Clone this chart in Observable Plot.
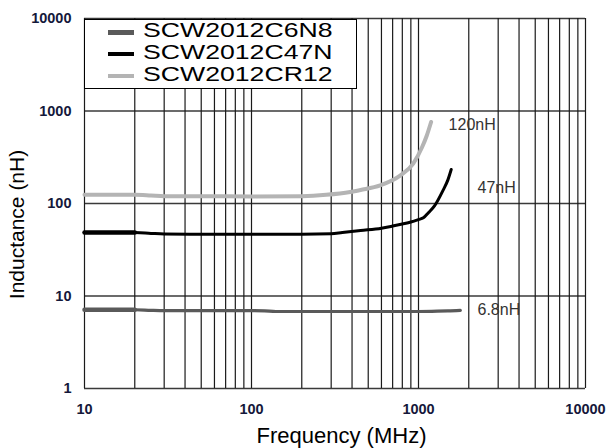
<!DOCTYPE html>
<html>
<head>
<meta charset="utf-8">
<script src="https://cdn.jsdelivr.net/npm/d3@7"></script>
<script src="https://cdn.jsdelivr.net/npm/@observablehq/plot@0.6"></script>
<style>
  html, body { margin: 0; padding: 0; background: #fff; }
  #wrap { position: relative; width: 607px; height: 448px; font-family: "Liberation Sans", Arial, sans-serif; }
  #legend { position: absolute; left: 84px; top: 19px; width: 273px; height: 70px; box-sizing: border-box;
            border: 1px solid #000; background: #fff; }
  .sw { position: absolute; left: 22.5px; width: 26px; height: 4.5px; }
  .lt { position: absolute; left: 58px; font-size: 21px; line-height: 20px; color: #000; white-space: nowrap;
        transform-origin: left center; }
</style>
</head>
<body>
<div id="wrap"></div>
<script>
// ---- data ----
const seriesNames = ["SCW2012C6N8", "SCW2012C47N", "SCW2012CR12"];
const seriesColors = ["#5a5a5a", "#000000", "#b4b4b4"];

const freq68 = [10, 20, 25, 30, 50, 100, 120, 140, 200, 500, 1000, 1300, 1500, 1780];
const ind68  = [7.1, 7.1, 7.0, 6.95, 6.95, 6.95, 6.9, 6.8, 6.8, 6.8, 6.8, 6.85, 6.9, 7.0];

const freq47 = [10, 20, 25, 30, 50, 100, 200, 300, 350, 450, 600, 700, 800, 900, 1000, 1070, 1150, 1250, 1400, 1500, 1570];
const ind47  = [48.5, 48.5, 47.5, 46.8, 46.5, 46.5, 46.5, 47, 48.5, 51, 54, 57, 60, 63, 67, 70, 80, 95, 138, 180, 233];

const freq120 = [10, 20, 25, 30, 50, 100, 200, 280, 390, 450, 590, 780, 930, 1050, 1120, 1190];
const ind120  = [124, 124, 122, 120, 120, 119, 120, 124, 133, 140, 157, 201, 270, 405, 540, 760];

const annoText = ["120nH", "47nH", "6.8nH"];
const annoFreq = [1514, 2256, 2256];
const annoInd  = [714, 149, 7.14];

const xTickValues = [10, 100, 1000, 10000];
const yTickValues = [1, 10, 100, 1000, 10000];

// grid lines at 1..9 x each decade
const xGrid = [];
for (let e = 1; e <= 3; e++) for (let m = 1; m <= 9; m++) xGrid.push(m * Math.pow(10, e));
xGrid.push(10000);

const toPts = (f, v) => f.map((x, i) => ({f: x, v: v[i]}));
const s68 = toPts(freq68, ind68), s47 = toPts(freq47, ind47), s120 = toPts(freq120, ind120);
const anno = annoText.map((t, i) => ({t, f: annoFreq[i], v: annoInd[i]}));

const font = "Liberation Sans, Arial, sans-serif";

const chart = Plot.plot({
  width: 607, height: 448,
  marginLeft: 84, marginRight: 22, marginTop: 18, marginBottom: 60,
  x: {type: "log", domain: [10, 10000]},
  y: {type: "log", domain: [1, 10000]},
  style: {fontFamily: font, background: "#fff", overflow: "visible"},
  marks: [
    Plot.ruleY(yTickValues, {y: d => d, stroke: "#3a3a3a", strokeWidth: 1.3}),
    Plot.ruleX(xGrid, {x: d => d, stroke: "#1a1a1a", strokeWidth: 1.2}),
    Plot.axisX(xTickValues, {tickSize: 0, tickPadding: 15, tickFormat: d => String(d), fontSize: 14.5, fontWeight: "bold", fill: "#14183a", label: null}),
    Plot.axisY(yTickValues, {tickSize: 0, tickPadding: 13, tickFormat: d => String(d), fontSize: 14.5, fontWeight: "bold", fill: "#14183a", label: null}),
    // curves
    Plot.line(s120, {x: "f", y: "v", stroke: seriesColors[2], strokeWidth: 4, curve: "monotone-x"}),
    Plot.line(s47, {x: "f", y: "v", stroke: seriesColors[1], strokeWidth: 3, curve: "monotone-x"}),
    Plot.line(s47.slice(0, 2), {x: "f", y: "v", stroke: seriesColors[1], strokeWidth: 4.5}),
    Plot.line(s68, {x: "f", y: "v", stroke: seriesColors[0], strokeWidth: 3.2, curve: "monotone-x"}),
    Plot.line(s68.slice(0, 2), {x: "f", y: "v", stroke: seriesColors[0], strokeWidth: 4.5}),
    // annotations
    Plot.text(anno, {x: "f", y: "v", text: "t", textAnchor: "start", lineAnchor: "middle", fontSize: 16, fill: "#333"}),
    // axis titles
    Plot.text(["Frequency (MHz)"], {frameAnchor: "bottom", dx: 6.5, dy: 47, fontSize: 22, fill: "#000", textAnchor: "middle", lineAnchor: "middle"}),
    Plot.text(["Inductance (nH)"], {frameAnchor: "left", dx: -67, dy: 21, rotate: -90, fontSize: 21, fill: "#000", textAnchor: "middle", lineAnchor: "middle"})
  ]
});

const wrap = document.getElementById("wrap");
wrap.appendChild(chart);

// legend overlay
const legend = document.createElement("div");
legend.id = "legend";
wrap.appendChild(legend);
const swCenters = [12.7, 34, 56];
const textTops = [-0.3, 21.7, 43.9];
const targetWidth = 189;
seriesNames.forEach((name, i) => {
  const sw = document.createElement("div");
  sw.className = "sw";
  sw.style.top = (swCenters[i] - 2.25) + "px";
  sw.style.background = seriesColors[i];
  legend.appendChild(sw);
  const t = document.createElement("div");
  t.className = "lt";
  t.style.top = textTops[i] + "px";
  t.textContent = name;
  legend.appendChild(t);
  const w = t.offsetWidth;
  if (w > 0) t.style.transform = `scaleX(${targetWidth / w})`;
});
</script>
</body>
</html>
